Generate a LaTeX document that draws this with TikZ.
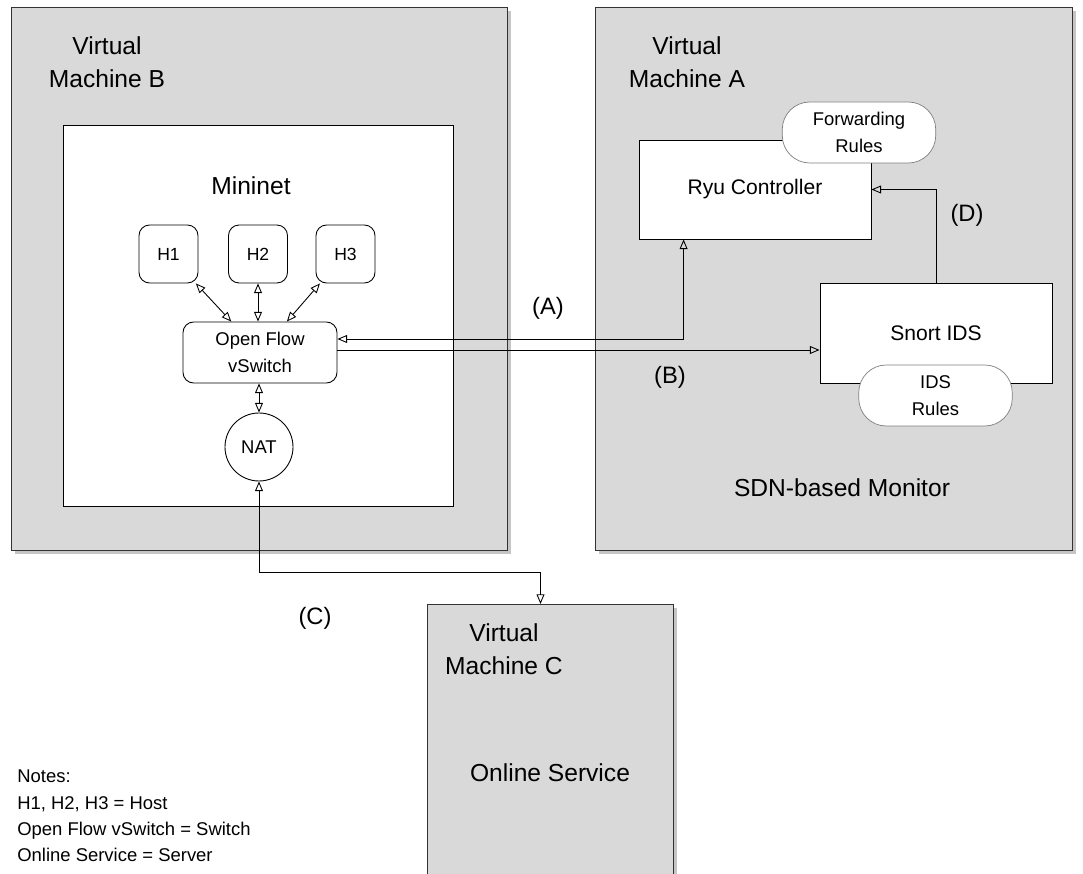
\documentclass[tikz,border=0pt]{standalone}
\usepackage{fontspec}
\setmainfont{Liberation Sans}
\usetikzlibrary{arrows.meta,calc,shadows}
\definecolor{vmgray}{HTML}{D9D9D9}

\begin{document}
\begin{tikzpicture}[x=0.02cm,y=-0.02cm,
    vm/.style={draw=black!80,fill=vmgray,line width=0.6pt,inner sep=0,
      drop shadow={shadow xshift=2pt,shadow yshift=-2pt,fill=black!45,opacity=0.5}},
    plainbox/.style={draw,fill=white,line width=0.5pt,inner sep=0},
    hostbox/.style={plainbox,rounded corners=6pt,minimum width=1.18cm,minimum height=1.16cm,font=\fontsize{10}{12}\selectfont},
    rules/.style={draw=black!50,fill=white,rounded corners=0.55cm,minimum width=3.07cm,minimum height=1.22cm,align=center,inner sep=0,font=\fontsize{10.5}{15}\selectfont},
    link/.style={line width=0.5pt,-{Triangle[open,length=5.5pt,width=4.5pt]}},
    twoway/.style={line width=0.5pt,{Triangle[open,length=5.5pt,width=4.5pt]}-{Triangle[open,length=5.5pt,width=4.5pt]}},
    lettertag/.style={font=\fontsize{13.5}{16}\selectfont},
    vmtitle/.style={align=center,font=\fontsize{14}{18.7}\selectfont}]
  \useasboundingbox (0,0) rectangle (1083,874);
  \clip (0,0) rectangle (1083,874);
  %%%%% START %%%%%
  \node[vm,minimum width=9.94cm,minimum height=10.88cm] (vmB) at (259.5,279) {};
  \node[vm,minimum width=9.56cm,minimum height=10.88cm] (vmA) at (834,279) {};
  \node[vm,minimum width=4.92cm,minimum height=6cm,anchor=north west] (vmC) at (427,604) {};

  \node[vmtitle] (labB) at (107,62) {Virtual\\Machine B};
  \node[vmtitle] (labA) at (687,62) {Virtual\\Machine A};
  \node[vmtitle] (labC) at (504,649) {Virtual\\Machine C};

  % mininet side
  \node[plainbox,minimum width=7.8cm,minimum height=7.62cm] (mininet) at (258,315.5) {};
  \node[vmtitle] (mininetlab) at (251,186) {Mininet};
  \node[hostbox] (h1) at (168.5,254) {H1};
  \node[hostbox] (h2) at (258,254) {H2};
  \node[hostbox] (h3) at (345.5,254) {H3};
  \node[plainbox,rounded corners=6pt,minimum width=3.08cm,minimum height=1.22cm,align=center,font=\fontsize{10.5}{15}\selectfont] (vswitch) at (260,352.5) {Open Flow\\vSwitch};
  \node[draw,fill=white,circle,line width=0.5pt,minimum size=1.36cm,inner sep=0,font=\fontsize{10.5}{12}\selectfont] (nat) at (259,447) {NAT};

  % monitor side
  \node[plainbox,minimum width=4.64cm,minimum height=1.98cm,font=\fontsize{12}{14}\selectfont] (ryu) at (755,189.5) {Ryu Controller};
  \node[rules] (fwd) at (859,132.5) {Forwarding\\Rules};
  \node[plainbox,minimum width=4.64cm,minimum height=2cm,font=\fontsize{12}{14}\selectfont] (snort) at (936,333) {Snort IDS};
  \node[rules] (ids) at (935.5,395.5) {IDS\\Rules};
  \node[vmtitle] (sdnlab) at (842,488) {SDN-based Monitor};

  \node[vmtitle] (onlinelab) at (550,773) {Online Service};

  % links
  \draw[twoway] (h1) -- (vswitch);
  \draw[twoway] (h2.south) -- (h2.south |- vswitch.north);
  \draw[twoway] (h3) -- (vswitch);
  \draw[twoway] (vswitch.south -| nat.north) -- (nat.north);
  \draw[twoway] ($(vswitch.east)+(0,-13.5)$) -| ($(ryu.south west)+(45,0)$);
  \draw[link] ($(vswitch.east)+(0,-2.5)$) -- ($(snort.west)+(0,17)$);
  \draw[link] (snort.north) |- (ryu.east);
  \draw[twoway] (nat.south) -- ++(0,91) -| ($(vmC.north)+(-10,0)$);

  \node[lettertag] (tagA) at (548,308) {(A)};
  \node[lettertag] (tagB) at (670,377) {(B)};
  \node[lettertag] (tagC) at (315,618) {(C)};
  \node[lettertag] (tagD) at (967,215) {(D)};

  \node[align=left,anchor=west,inner sep=0,font=\fontsize{10.5}{15}\selectfont] (notes) at (17,816) {Notes:\\H1, H2, H3 = Host\\Open Flow vSwitch = Switch\\Online Service = Server};
  %%%%% END %%%%%
\end{tikzpicture}
\end{document}
